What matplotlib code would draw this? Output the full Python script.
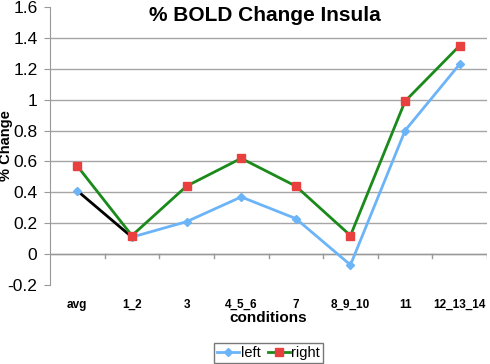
import numpy as np
import matplotlib.pyplot as plt

plt.rcParams['font.family'] = ['Liberation Sans', 'DejaVu Sans']

conditions = ['avg', '1_2', '3', '4_5_6', '7', '8_9_10', '11', '12_13_14']
left = [0.41, 0.11, 0.21, 0.37, 0.23, -0.07, 0.80, 1.23]
right = [0.57, 0.12, 0.44, 0.62, 0.44, 0.12, 0.99, 1.35]
yticks = [-0.2, 0, 0.2, 0.4, 0.6, 0.8, 1, 1.2, 1.4, 1.6]

fig = plt.figure(figsize=(4.9, 3.64), dpi=100)
ax = fig.add_axes([0.102, 0.217, 0.892, 0.764])

x = np.arange(len(conditions))
ax.set_xlim(-0.5, len(conditions) - 0.5)
ax.set_ylim(-0.2, 1.6)

for v in yticks[1:-1]:
    ax.axhline(v, color='#a6a6a6', lw=1, zorder=1)

ax.plot(x[1:], left[1:], color='#6cb4f8', lw=2, marker='D', ms=4, zorder=3)
ax.plot(x[:2], left[:2], color='black', lw=2, zorder=3)
ax.plot(x[0], left[0], color='#6cb4f8', marker='D', ms=4, ls='none', zorder=4)
ax.plot(x, right, color='#1a8a1a', lw=2, marker='s', ms=6, mfc='#e8403f', mec='#e8403f', zorder=4)

# category axis at zero with boundary ticks
for b in np.arange(0.5, len(conditions) - 0.5 + 1e-9, 1.0):
    ax.plot([b, b], [0, -0.025], color='#999999', lw=1, zorder=2)
ax.plot([-0.5, len(conditions) - 0.5], [0, 0], color='#999999', lw=1, zorder=2)

ax.set_yticks(yticks)
ax.set_yticklabels(['-0.2', '0', '0.2', '0.4', '0.6', '0.8', '1', '1.2', '1.4', '1.6'], fontsize=12.5)
ax.tick_params(axis='y', length=4, color='#999999', pad=5)
ax.set_xticks(x)
ax.set_xticklabels(conditions, fontsize=8.5, fontweight='bold')
ax.tick_params(axis='x', length=0, pad=10)

for s in ['top', 'right', 'bottom']:
    ax.spines[s].set_visible(False)
ax.spines['left'].set_color('#999999')

fig.text(0.54, 0.958, '% BOLD Change Insula', fontsize=15, fontweight='bold', ha='center', va='center')
ax.set_xlabel('conditions', fontsize=11, fontweight='bold', labelpad=0)
ax.set_ylabel('% Change', fontsize=10.5, fontweight='bold', labelpad=-4)

h1, = ax.plot([], [], color='#6cb4f8', lw=2, marker='D', ms=4)
h2, = ax.plot([], [], color='#1a8a1a', lw=2, marker='s', ms=6, mfc='#e8403f', mec='#e8403f')
leg = fig.legend([h1, h2], ['left', 'right'], loc='lower center', bbox_to_anchor=(0.548, 0.0),
                 ncol=2, fontsize=10.5, frameon=True, fancybox=False, edgecolor='#555555',
                 handlelength=1.5, handletextpad=0.1, columnspacing=0.5, borderpad=0.2,
                 borderaxespad=0.1)

fig.savefig('out.png', dpi=100)
